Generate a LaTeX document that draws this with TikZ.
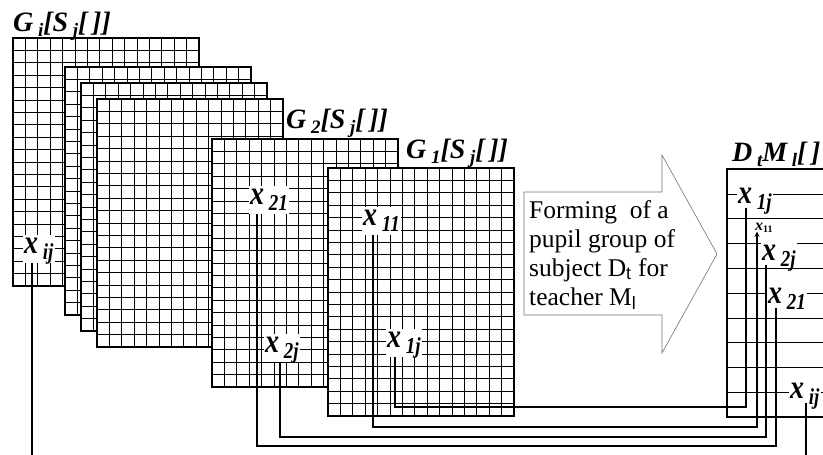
\documentclass[tikz,border=0pt]{standalone}
\usepackage{fontspec}
\setmainfont{Liberation Serif}
\newfontfamily\subsans{Liberation Sans}
\usepackage{graphicx}
\usepackage{tikz}

% lowered subscript for the bold italic labels
\newcommand{\lowsub}[1]{\,\raisebox{-5pt}{\fontsize{19}{19}\selectfont #1}}
% cell name, drawn a little taller than the font
\newcommand{\xname}[1]{\scalebox{1}[1.2]{x\lowsub{#1}}}
% one sheet of 15 x 20 cells, given its top left corner
\newcommand{\pupilgrid}[2]{%
  \fill[white] (#1,#2) rectangle ++(186,248);
  \foreach \col in {1,...,14} \draw[gridcell] (#1+\col*12.4,#2) -- ++(0,248);
  \foreach \row in {1,...,19} \draw[gridcell] (#1,#2+\row*12.4) -- ++(186,0);
  \draw[gridframe] (#1,#2) rectangle ++(186,248);
}

\begin{document}
\begin{tikzpicture}[x=1pt, y=-1pt, >=stealth,
  gridcell/.style={line width=0.7pt},
  gridframe/.style={line width=1.6pt},
  link/.style={line width=1.3pt},
  sheetname/.style={anchor=base west, inner sep=0pt, font=\fontsize{28}{28}\selectfont\bfseries\itshape},
  xlab/.style={anchor=base west, fill=white, inner sep=1.5pt, text height=17pt, text depth=8pt,
    font=\fontsize{28}{28}\selectfont\bfseries\itshape},
  tlab/.style={xlab, text depth=3pt}]
  \useasboundingbox (0,0) rectangle (823,455);
  % Stack of group sheets, back to front
  \foreach \gx/\gy in {13/38, 65/67, 81/83, 97/99, 212/139, 328/168} {
    \pupilgrid{\gx}{\gy}
  }
  \node[sheetname] (gi) at (13,31) {G\lowsub{i}[S\lowsub{j}[\,]]};
  \node[sheetname] (g2) at (286,128) {G\lowsub{2}[S\lowsub{j}[\,]]};
  \node[sheetname] (g1) at (406,158) {G\lowsub{1}[S\lowsub{j}[\,]]};
  % Block arrow with its text
  \draw[black!55, line width=0.6pt, fill=white] (524,192) -- (662,192) -- (662,155) -- (717,254)
    -- (662,353) -- (662,315) -- (524,315) -- cycle;
  \node[anchor=north west, align=left, inner sep=0pt, font=\fontsize{25.5}{29}\selectfont] (form) at (529,200)
    {Forming\ \ of a\\pupil group of\\subject D\textsubscript{\subsans t} for\\teacher M\textsubscript{\subsans l}};
  % Result list D_t M_l
  \node[sheetname] (dm) at (732,161) {D\lowsub{t}M\lowsub{l}[\,]};
  \foreach \k in {1,...,9} \draw[line width=0.6pt] (727,169+\k*24.8) -- (823,169+\k*24.8);
  \draw[line width=1.4pt] (823,169) -- (727,169) -- (727,417) -- (823,417);
  % Cell labels
  \node[xlab] (gij) at (22.5,253) {\xname{ij}};
  \node[xlab] (g21) at (248.5,204) {\xname{21}};
  \node[xlab] (g2j) at (263.5,352) {\xname{2j}};
  \node[xlab] (g11) at (361.5,225) {\xname{11}};
  \node[xlab] (g1j) at (385.5,347) {\xname{1j}};
  \node[tlab] (t1j) at (736.5,203) {\xname{1j}};
  \node[anchor=base west, fill=white, inner sep=0.5pt, text depth=1pt, font=\fontsize{16}{16}\selectfont\bfseries]
    (t11) at (754.5,230) {\textit{x}\raisebox{-2pt}{\fontsize{10}{10}\selectfont 11}};
  \node[tlab] (t2j) at (760.5,260) {\xname{2j}};
  \node[tlab] (t21) at (766.5,303) {\xname{21}};
  \node[tlab] (tij) at (788.5,398) {\xname{ij}};
  % Levels of the links under the sheets
  \coordinate (lv1j) at (0,407);
  \coordinate (lv11) at (0,427);
  \coordinate (lv2j) at (0,437);
  \coordinate (lv21) at (0,446);
  \coordinate (low) at (0,455);
  \foreach \from/\da/\to/\db/\lev in {g1j/9.5/t1j/9.5/lv1j, g2j/16.5/t2j/5.5/lv2j, g21/8.5/t21/9.5/lv21} {
    \draw[link] ([xshift=\da pt]\from.south west) coordinate (s) -- (s |- \lev) -| ([xshift=\db pt]\to.south west);
  }
  \draw[link,->] ([xshift=11.5pt]g11.south west) coordinate (s) -- (s |- lv11) -| ([xshift=2.5pt]t11.south west);
  \draw[link] ([xshift=9.5pt]gij.south west) coordinate (s) -- (s |- low);
  \draw[link] ([xshift=17.5pt]tij.south west) coordinate (s) -- (s |- low);
\end{tikzpicture}
\end{document}
